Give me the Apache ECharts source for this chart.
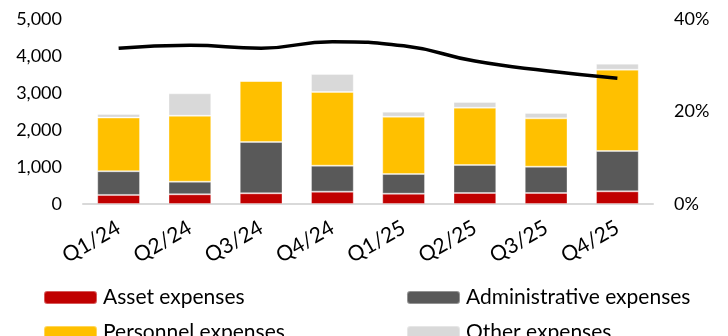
<!DOCTYPE html>
<html>
<head>
<meta charset="utf-8">
<script src="https://cdn.jsdelivr.net/npm/echarts@6/dist/echarts.min.js"></script>
<style>
  html, body { margin: 0; padding: 0; background: #fff; }
  #chart { width: 728px; height: 336px; }
</style>
</head>
<body>
<div id="chart"></div>
<script>
const quarters = ['Q1/24', 'Q2/24', 'Q3/24', 'Q4/24', 'Q1/25', 'Q2/25', 'Q3/25', 'Q4/25']
const assetExp = [245, 262, 289, 333, 279, 297, 297, 342]
const adminExp = [640, 340, 1387, 703, 532, 757, 712, 1090]
const personnelExp = [1450, 1783, 1648, 1991, 1549, 1550, 1306, 2199]
const otherExp = [100, 606, 0, 487, 135, 153, 144, 162]
const ratioPct = [33.7, 34.3, 33.7, 35.1, 34.2, 30.9, 28.8, 27.2]

const font = 'Lato'
const chart = echarts.init(document.getElementById('chart'))

function barSeries(name, data, color) {
  return {
    name,
    type: 'bar',
    stack: 'opex',
    barWidth: '60%',
    data,
    itemStyle: { color, borderColor: 'rgba(255,255,255,0.35)', borderWidth: 1 }
  }
}

// one legend per entry so the 2x2 grid lands where the reference has it
function legendItem(name, left, top) {
  return {
    left, top,
    itemWidth: 53, itemHeight: 13, itemGap: 0,
    textStyle: { fontFamily: font, fontSize: 21, color: '#000', padding: [0, 0, 0, 1] },
    data: [name]
  }
}

chart.setOption({
  animation: false,
  textStyle: { fontFamily: font },
  grid: { left: 83, right: 75, top: 19, bottom: 132 },
  legend: [
    legendItem('Asset expenses', 38, 282),
    legendItem('Administrative expenses', 401, 282),
    legendItem('Personnel expenses', 38, 317),
    legendItem('Other expenses', 401, 317)
  ],
  xAxis: {
    type: 'category',
    data: quarters,
    axisLine: { lineStyle: { color: '#d9d9d9', width: 2 } },
    axisTick: { show: false },
    axisLabel: { rotate: 30, color: '#000', fontSize: 21, margin: 22 }
  },
  yAxis: [
    {
      type: 'value', min: 0, max: 5000, interval: 1000,
      axisLine: { show: false }, axisTick: { show: false },
      splitLine: { show: false },
      axisLabel: {
        color: '#000', fontSize: 18, margin: 21,
        formatter: v => v.toLocaleString('en-US')
      }
    },
    {
      type: 'value', min: 0, max: 40, interval: 20,
      axisLine: { show: false }, axisTick: { show: false },
      splitLine: { show: false },
      axisLabel: { color: '#000', fontSize: 18, margin: 21, formatter: '{value}%' }
    }
  ],
  series: [
    barSeries('Asset expenses', assetExp, '#c00000'),
    barSeries('Administrative expenses', adminExp, '#595959'),
    barSeries('Personnel expenses', personnelExp, '#ffc000'),
    barSeries('Other expenses', otherExp, '#d9d9d9'),
    {
      name: 'Ratio',
      type: 'line',
      yAxisIndex: 1,
      smooth: true,
      showSymbol: false,
      data: ratioPct,
      lineStyle: { color: '#000', width: 3.5 },
      z: 5
    }
  ]
})
</script>
</body>
</html>
